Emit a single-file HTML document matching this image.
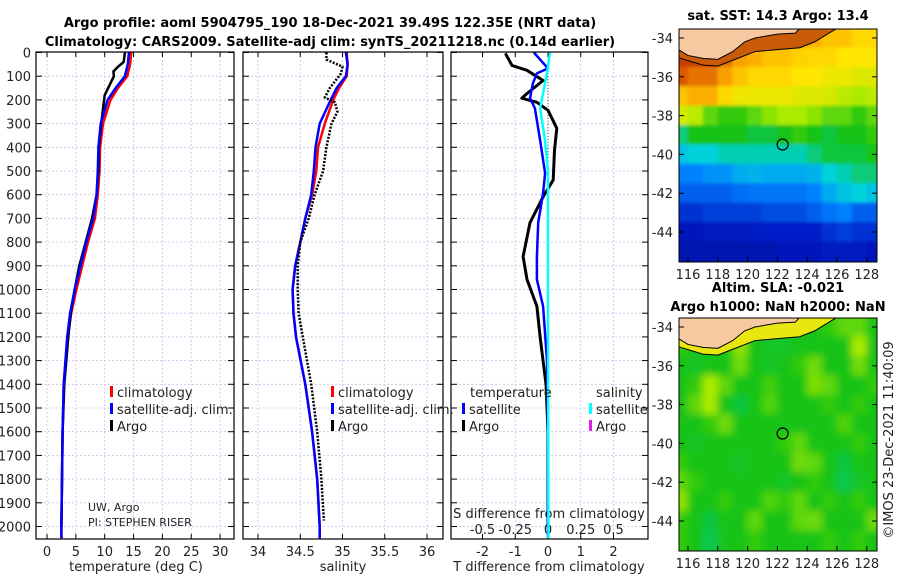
<!DOCTYPE html>
<html><head><meta charset="utf-8"><style>
body{margin:0;background:#fff}
svg text{font-family:"DejaVu Sans","Liberation Sans",sans-serif;fill:#222}
.b{font-weight:bold;fill:#000}
</style></head><body>
<svg id="s" width="900" height="580" viewBox="0 0 900 580" xmlns="http://www.w3.org/2000/svg">
<defs>
<clipPath id="cm1"><rect x="679" y="29" width="198" height="233"/></clipPath>
<clipPath id="cm2"><rect x="679" y="318" width="198" height="233"/></clipPath>
<filter id="bl1" x="-10%" y="-10%" width="120%" height="120%"><feGaussianBlur stdDeviation="1.5"/></filter>
<filter id="bl2" x="-10%" y="-10%" width="120%" height="120%"><feGaussianBlur stdDeviation="4"/></filter>
</defs>
<text class="b" x="330" y="27" font-size="13" text-anchor="middle">Argo profile: aoml 5904795_190 18-Dec-2021 39.49S 122.35E (NRT data)</text>
<text class="b" x="330" y="46" font-size="13" text-anchor="middle">Climatology: CARS2009. Satellite-adj clim: synTS_20211218.nc (0.14d earlier)</text>
<g id="g"></g>
</svg>
<script>
// ---------- data ----------
const depths=[0,50,100,150,200,300,400,500,600,700,800,900,1000,1100,1200,1400,1600,1800,2000,2050];
const tClim=[14.6,14.4,13.9,12.3,11.0,9.7,9.2,9.1,8.8,8.3,7.1,6.1,5.1,4.2,3.6,2.9,2.7,2.6,2.5,2.5];
const tSat=[14.2,14.0,13.5,11.9,10.5,9.3,8.9,8.8,8.6,8.0,6.8,5.8,4.8,4.0,3.5,2.9,2.7,2.6,2.5,2.5];
const argoDepths=[0,40,60,80,100,180,300,400,500,600,700,800,900,1000,1100,1200,1400,1600,1800,2000];
const tArgo=[13.5,13.3,12.3,11.5,11.6,10.0,9.4,9.0,8.9,8.6,7.8,6.7,5.6,4.8,4.1,3.7,3.0,2.7,2.6,2.5];
const sClim=[35.05,35.06,35.05,34.96,34.89,34.79,34.71,34.69,34.64,34.56,34.50,34.44,34.41,34.42,34.45,34.56,34.64,34.70,34.73,34.73];
const sSat=[35.04,35.06,35.04,34.93,34.86,34.73,34.68,34.66,34.63,34.56,34.50,34.44,34.41,34.42,34.45,34.56,34.64,34.70,34.73,34.73];
const sArgoDepths=[0,30,60,90,150,190,210,250,300,400,500,600,700,800,900,1000,1100,1200,1400,1600,1800,1975];
const sArgo=[34.81,34.81,35.0,34.98,34.85,34.79,34.91,34.94,34.87,34.81,34.77,34.67,34.60,34.50,34.47,34.47,34.48,34.53,34.63,34.70,34.75,34.78];
const dDepths=[4,55,75,118,173,193,210,244,320,412,538,609,718,861,958,1071,1200,1400,1600,1800,2000];
const dTArgo=[-1.3,-1.1,-0.64,-0.15,-0.64,-0.8,-0.34,0,0.27,0.2,0.16,-0.15,-0.55,-0.76,-0.64,-0.34,-0.24,-0.06,0,0,0];
const dsDepths=[0,30,67,88,130,193,235,370,509,593,718,861,958,1071,1300,1600,2000,2050];
const dTSat=[-0.43,-0.24,0,-0.34,-0.46,-0.55,-0.4,-0.24,-0.09,-0.15,-0.3,-0.34,-0.34,-0.15,-0.03,0,0,0];
const ssDepths=[0,88,235,370,500,1000,2000,2050];
const dSSat=[0.015,-0.008,-0.06,-0.023,0,0,0.003,0.003];
const sstGrid=[
[.95,.95,.9,.85,.8,.8,.8,.78,.8,.78,.75,.75,.72,.72],
[.92,.92,.9,.85,.8,.78,.75,.75,.73,.72,.72,.7,.7,.7],
[.88,.85,.85,.8,.75,.72,.72,.72,.7,.7,.68,.68,.66,.66],
[.75,.78,.78,.72,.68,.68,.68,.68,.66,.66,.65,.62,.6,.62],
[.65,.62,.55,.52,.52,.55,.58,.6,.6,.58,.55,.55,.52,.55],
[.45,.5,.5,.5,.5,.48,.48,.5,.52,.5,.48,.5,.5,.52],
[.38,.4,.4,.42,.42,.42,.42,.42,.42,.45,.48,.48,.48,.5],
[.3,.3,.32,.32,.35,.36,.35,.35,.35,.36,.4,.42,.45,.45],
[.25,.25,.25,.25,.27,.28,.28,.28,.28,.3,.35,.38,.4,.38],
[.18,.18,.2,.2,.2,.2,.22,.22,.22,.25,.28,.3,.25,.25],
[.12,.12,.13,.13,.13,.14,.15,.15,.15,.15,.18,.2,.18,.18],
[.1,.1,.1,.1,.1,.1,.1,.12,.12,.12,.13,.13,.13,.12]];
const slaGrid=[
[.52,.52,.52,.5,.5,.5,.5,.5,.5,.5,.52,.55,.55,.5],
[.52,.5,.5,.5,.58,.5,.49,.49,.5,.5,.5,.5,.6,.5],
[.5,.49,.5,.5,.56,.5,.49,.5,.52,.56,.5,.5,.56,.5],
[.5,.52,.6,.55,.5,.5,.53,.5,.5,.57,.55,.5,.5,.52],
[.5,.55,.6,.5,.48,.5,.54,.5,.5,.5,.52,.5,.52,.5],
[.5,.5,.52,.56,.5,.5,.5,.5,.5,.5,.5,.54,.5,.5],
[.5,.49,.5,.5,.5,.5,.5,.52,.55,.5,.5,.5,.52,.5],
[.52,.5,.5,.5,.49,.5,.5,.5,.56,.55,.5,.48,.5,.5],
[.55,.52,.5,.5,.5,.5,.5,.49,.5,.52,.5,.47,.49,.5],
[.58,.5,.5,.52,.5,.5,.54,.52,.55,.5,.52,.5,.52,.5],
[.52,.5,.48,.5,.5,.55,.5,.5,.55,.56,.5,.5,.5,.56],
[.52,.5,.47,.5,.5,.52,.5,.5,.5,.5,.52,.5,.52,.5]];
const coast=[[115.3,-34.57],[116,-34.9],[117,-35.05],[118,-35.1],[119,-34.7],[119.8,-34.2],[120.5,-34.0],[122,-33.8],[123.2,-33.75],[123.5,-33.5]];
const contour=[[115.3,-35.0],[117,-35.4],[118,-35.45],[119.5,-35.0],[120.5,-34.7],[122,-34.6],[123.5,-34.5],[124.5,-34.2],[126,-33.5]];
const tTicks=[0,5,10,15,20,25,30];
const sTicks=[34,34.5,35,35.5,36];
const sTickLabels=['34','34.5','35','35.5','36'];
const dTicks=[-2,-1,0,1,2];
const dsTicks=[-0.5,-0.25,0,0.25,0.5];
const depthTicks=[0,100,200,300,400,500,600,700,800,900,1000,1100,1200,1300,1400,1500,1600,1700,1800,1900,2000];
const lonTicks=[116,118,120,122,124,126,128];
const latTicks=[-34,-36,-38,-40,-42,-44];

// ---------- scales ----------
const NS="http://www.w3.org/2000/svg", G=document.getElementById('g');
const yD=d=>52.5+d*0.237;
const xT=t=>47+t*5.77;
const xS=s=>258+(s-34)*84.5;
const xDT=v=>548+v*32.75;
const xDS=v=>548+v*131;
function mk(tag,at,parent){const e=document.createElementNS(NS,tag);for(const k in at)e.setAttribute(k,at[k]);(parent||G).appendChild(e);return e;}
function txt(x,y,s,size,anchor,parent){const e=mk('text',{x:x,y:y,'font-size':size,'text-anchor':anchor||'middle'},parent);e.textContent=s;return e;}

const panels=[{x0:36,x1:234,name:'temperature-panel'},{x0:243,x1:443,name:'salinity-panel'},{x0:451,x1:648,name:'difference-panel'}];
const Y0=52,Y1=539;
panels.forEach((p,i)=>{
  const g=mk('g',{});
  
  
  mk('rect',{x:p.x0,y:Y0,width:p.x1-p.x0,height:Y1-Y0,fill:'#fff'},g);
  depthTicks.forEach(d=>{mk('line',{x1:p.x0,x2:p.x1,y1:yD(d),y2:yD(d),stroke:'#c8c0e8','stroke-width':0.8,'stroke-dasharray':'2,2'},g);
    mk('line',{x1:p.x0,x2:p.x0+6,y1:yD(d),y2:yD(d),stroke:'#000'},g);mk('line',{x1:p.x1,x2:p.x1-6,y1:yD(d),y2:yD(d),stroke:'#000'},g);});
  const ticks=i==0?tTicks.map(xT):i==1?sTicks.map(xS):dTicks.map(xDT);
  ticks.forEach(x=>{mk('line',{x1:x,x2:x,y1:Y0,y2:Y1,stroke:'#c8c0e8','stroke-width':0.8,'stroke-dasharray':'2,2'},g);
    mk('line',{x1:x,x2:x,y1:Y1,y2:Y1-5,stroke:'#000'},g);mk('line',{x1:x,x2:x,y1:Y0,y2:Y0+5,stroke:'#000'},g);});
});
depthTicks.forEach(d=>{const t=txt(31,yD(d)+5,String(d),13,'end');});
tTicks.forEach(v=>{const t=txt(xT(v),556,String(v),13);});
sTicks.forEach((v,k)=>{const t=txt(xS(v),556,sTickLabels[k],13);});
dTicks.forEach(v=>{const t=txt(xDT(v),556,String(v),13);});
dsTicks.forEach(v=>{const t=txt(xDS(v),534,String(v),13);});
[[136,'temperature (deg C)','x-axis-title-temperature'],[343,'salinity','x-axis-title-salinity'],[549,'T difference from climatology','x-axis-title-t-diff']].forEach(a=>{const t=txt(a[0],571,a[1],13);});
{const t=txt(549,518,'S difference from climatology',13);}

function line(xs,ds,xf,color,w,dash,name){
  const pts=xs.map((v,k)=>xf(v).toFixed(1)+','+Math.min(yD(ds[k]),Y1).toFixed(1)).join(' ');
  const e=mk('polyline',{points:pts,fill:'none',stroke:color,'stroke-width':w,'stroke-linejoin':'round'});
  if(dash)e.setAttribute('stroke-dasharray',dash);
  
  
}
mk('line',{x1:xDT(0),x2:xDT(0),y1:Y0,y2:Y1,stroke:'#333','stroke-width':0.8,'stroke-dasharray':'1,2'});
line(tClim,depths,xT,'#f00',2.5,null,'temperature-climatology-line');
line(tArgo,argoDepths,xT,'#000',2.5,null,'temperature-argo-line');
line(tSat,depths,xT,'#00f',2.5,null,'temperature-satellite-line');
line(sClim,depths,xS,'#f00',2.5,null,'salinity-climatology-line');
line(sSat,depths,xS,'#00f',2.5,null,'salinity-satellite-line');
line(sArgo,sArgoDepths,xS,'#000',2.5,'2,1.5','salinity-argo-line');
line(dTArgo,dDepths,xDT,'#000',3,null,'t-diff-argo-line');
line(dTSat,dsDepths,xDT,'#00f',2.5,null,'t-diff-satellite-line');
line(dSSat,ssDepths,xDS,'#0ff',2.5,null,'s-diff-satellite-line');
panels.forEach(p=>{mk('rect',{x:p.x0,y:Y0,width:p.x1-p.x0,height:Y1-Y0,fill:'none',stroke:'#000','stroke-width':1.2});});

function legend(x,y,color,label){const g=mk('g',{});
  mk('rect',{x:x,y:y-11,width:3,height:11,fill:color},g);txt(x+7,y,label,13,'start',g);}
legend(110,397,'#f00','climatology');legend(110,414,'#00f','satellite-adj. clim.');legend(110,431,'#000','Argo');
legend(331,397,'#f00','climatology');legend(331,414,'#00f','satellite-adj. clim.');legend(331,431,'#000','Argo');
{const t=txt(470,397,'temperature',13,'start');}
{const t=txt(596,397,'salinity',13,'start');}
legend(462,414,'#00f','satellite');legend(462,431,'#000','Argo');legend(589,414,'#0ff','satellite');legend(589,431,'#e020e0','Argo');
{const t=txt(88,511,'UW, Argo',11,'start');}
{const t=txt(88,526,'PI: STEPHEN RISER',11,'start');}

// ---------- maps ----------
const stops=[[0,[0,0,130]],[.15,[0,30,200]],[.3,[0,130,255]],[.4,[0,210,220]],[.5,[20,195,20]],[.6,[170,235,0]],[.7,[255,230,0]],[.8,[250,160,0]],[.9,[210,70,0]],[1,[140,20,0]]];
function cmap(v){for(let i=1;i<stops.length;i++){if(v<=stops[i][0]){const a=stops[i-1],b=stops[i],f=(v-a[0])/(b[0]-a[0]);return 'rgb('+a[1].map((c,k)=>Math.round(c+(b[1][k]-c)*f)).join(',')+')';}}return 'rgb(140,20,0)';}
function drawMap(top,grid,clip,bandColor,name,blur){
  const g=mk('g',{'clip-path':'url(#'+clip+')'});
  
  
  const xL=lon=>688+(lon-116)*14.9, yL=lat=>top+9+(-34-lat)*19.4;
  const cg=mk('g',{filter:'url(#'+blur+')'},g);
  grid.forEach((row,r)=>row.forEach((v,c)=>{
    const rr=(r==0)?-1:r, h=(r==0||r==grid.length-1)?40:20;
    mk('rect',{x:xL(115+c)-(c==0?15:0.3),y:yL(-33.5-rr)-0.3-(r==0?0:0),width:c==0||c==grid[0].length-1?31:15.5,height:h,fill:cmap(v)},cg);}));
  const band=contour.map(p=>xL(p[0])+','+yL(p[1])).join(' ')+' 880,'+(top-5)+' 670,'+(top-5);
  mk('polygon',{points:band,fill:bandColor},g);
  const land=coast.map(p=>xL(p[0])+','+yL(p[1])).join(' ')+' '+xL(123.5)+','+(top-5)+' 670,'+(top-5);
  mk('polygon',{points:land,fill:'#f8c8a0'},g);
  mk('polyline',{points:coast.map(p=>xL(p[0])+','+yL(p[1])).join(' '),fill:'none',stroke:'#000','stroke-width':1},g);
  mk('polyline',{points:contour.map(p=>xL(p[0])+','+yL(p[1])).join(' '),fill:'none',stroke:'#000','stroke-width':1},g);
  const c=mk('circle',{cx:xL(122.35),cy:yL(-39.49),r:5.5,fill:'none',stroke:'#000','stroke-width':1.2});
  
  mk('rect',{x:679,y:top,width:198,height:233,fill:'none',stroke:'#000','stroke-width':1});
  lonTicks.forEach(l=>{txt(xL(l),top+250,String(l),13);mk('line',{x1:xL(l),x2:xL(l),y1:top+233,y2:top+228,stroke:'#000'});});
  latTicks.forEach(l=>{txt(673,yL(l)+5,String(l),13,'end');mk('line',{x1:877,x2:872,y1:yL(l),y2:yL(l),stroke:'#000'});mk('line',{x1:679,x2:684,y1:yL(l),y2:yL(l),stroke:'#000'});});
}
drawMap(29,sstGrid,'cm1','#c85a08','sst-map','bl1');
drawMap(318,slaGrid,'cm2','#e8e810','sla-map','bl2');
[[778,20,'sat. SST: 14.3 Argo: 13.4','sst-map-title'],[778,292,'Altim. SLA: -0.021','sla-map-title'],[778,311,'Argo h1000: NaN h2000: NaN','sla-map-subtitle']].forEach(a=>{const t=txt(a[0],a[1],a[2],13);t.setAttribute('class','b');});
{const t=txt(0,0,'©IMOS 23-Dec-2021 11:40:09',13);t.setAttribute('transform','translate(893,440) rotate(-90)');}
</script>
</body></html>
